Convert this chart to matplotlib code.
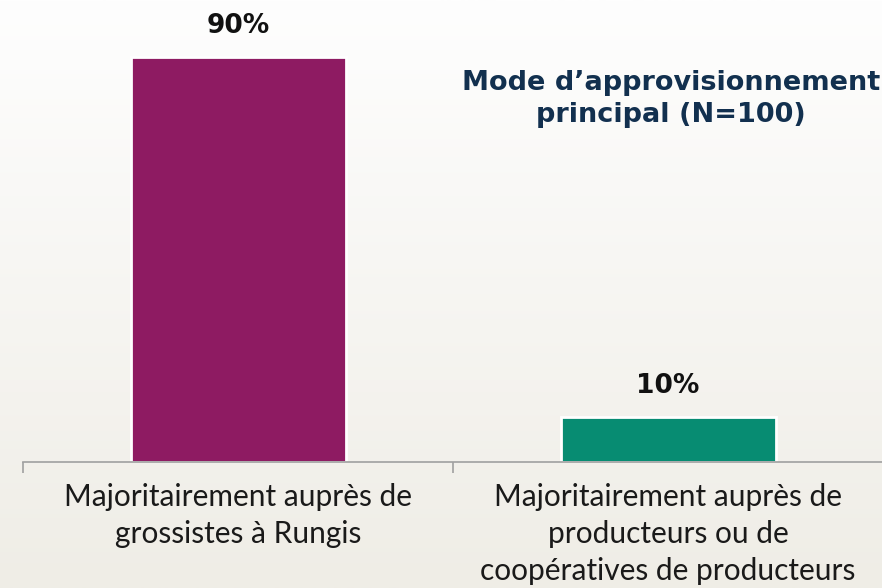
import numpy as np
from matplotlib import pyplot as plt

categories = ["Majoritairement auprès de\ngrossistes à Rungis",
              "Majoritairement auprès de\nproducteurs ou de\ncoopératives de producteurs"]
values = [90, 10]
labels = ["90%", "10%"]
colors = ["#8E1B62", "#078C72"]
title = "Mode d\u2019approvisionnement\nprincipal (N=100)"

fig = plt.figure(figsize=(8.82, 5.88), dpi=100)

# background gradient (white at top, light beige at bottom)
bg = fig.add_axes([0, 0, 1, 1], zorder=0)
grad = np.linspace(0, 1, 256).reshape(-1, 1)
top = np.array([254, 254, 254]) / 255
bot = np.array([239, 237, 230]) / 255
img = top + (bot - top) * grad[:, :, None]
bg.imshow(img, aspect='auto', extent=[0, 1, 0, 1], origin='upper')
bg.axis('off')

ax = fig.add_axes([23/882, 126/588, 860/882, 462/588], zorder=1)
ax.patch.set_alpha(0)
x = np.arange(len(values))
bars = ax.bar(x, values, width=0.5, color=colors, edgecolor='white', linewidth=2)
for xi, v, lab in zip(x, values, labels):
    ax.text(xi, v + 4, lab, ha='center', va='bottom', fontsize=19,
            fontweight='bold', color='#111111', family='DejaVu Sans')

ax.set_xlim(-0.5, 1.5)
ax.set_ylim(0, 462/4.5)
for s in ['top', 'right', 'left']:
    ax.spines[s].set_visible(False)
ax.spines['bottom'].set_color('#A0A0A0')
ax.spines['bottom'].set_linewidth(1.2)
ax.set_yticks([])
ax.set_xticks(x)
ax.set_xticklabels(categories, fontsize=21.5, color='#1A1A1A', family='Lato',
                   linespacing=1.4)
ax.tick_params(axis='x', which='major', length=0, pad=15)
ax.set_xticks([-0.5, 0.5, 1.5], minor=True)
ax.tick_params(axis='x', which='minor', length=8, width=1.2, color='#A0A0A0')

fig.text(671/882, 1 - 99/588, title, ha='center', va='center', fontsize=19.5,
         fontweight='bold', color='#12304F', family='DejaVu Sans', linespacing=1.3)

fig.savefig('out.png', dpi=100)
